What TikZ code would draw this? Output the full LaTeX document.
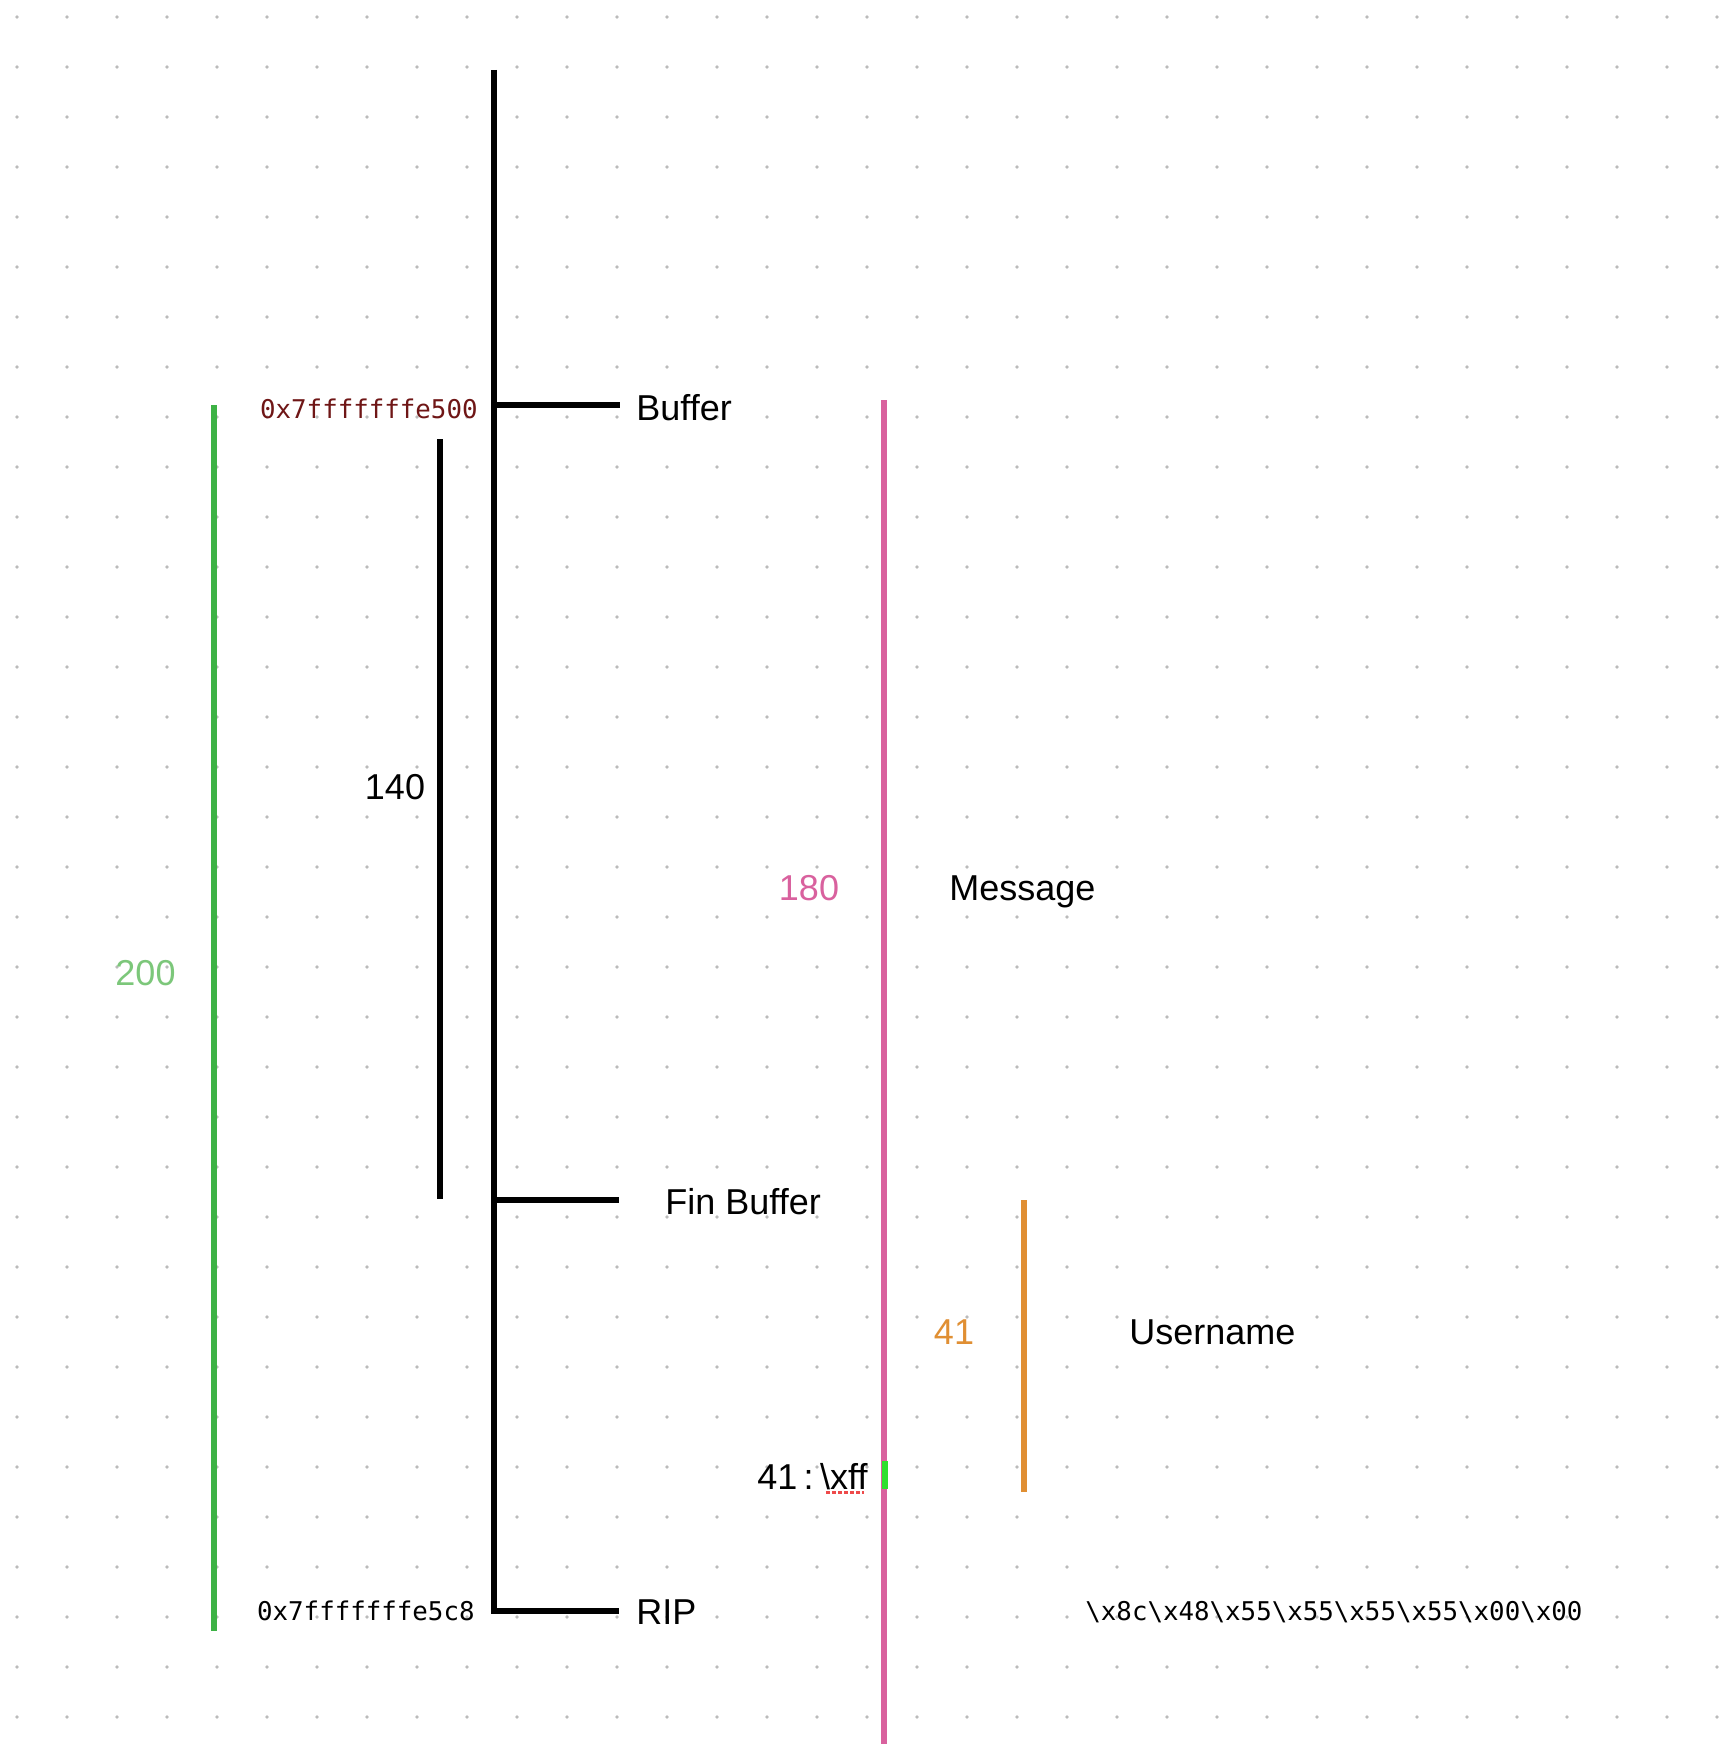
\documentclass[tikz,border=0pt]{standalone}
\usepackage{fontspec}
\setmainfont{Liberation Sans}
\newfontfamily\codefont{DejaVu Sans Mono}
\definecolor{gridgray}{HTML}{BBBBBB}
\definecolor{addrred}{HTML}{6F1616}
\definecolor{spangreen}{HTML}{3DB245}
\definecolor{spangreentext}{HTML}{7CC77A}
\definecolor{spanpink}{HTML}{D9619E}
\definecolor{spanorange}{HTML}{E08F33}
\definecolor{bytegreen}{HTML}{2EE02E}
\definecolor{spellred}{HTML}{EE4A4A}
\newcommand{\bsl}{\textbackslash}
\begin{document}
\begin{tikzpicture}[x=0.5pt,y=-0.5pt,
  bar/.style={line width=3pt,line join=miter},
  lbl/.style={inner sep=0pt,font=\fontsize{18}{20}\selectfont},
  code/.style={inner sep=0pt,font=\codefont\fontsize{12.9}{14}\selectfont}]
% canvas and dotted grid
\fill[white] (0,0) rectangle (1728,1744);
\useasboundingbox (0,0) rectangle (1728,1744);
\foreach \i in {0,...,34}{\foreach \j in {0,...,34}{
  \fill[gridgray] (17+50*\i,17+50*\j) circle (1.8);}}
% stack axis with its three markers
\coordinate (top) at (494,70);
\coordinate (buf) at (494,405);
\coordinate (bufend) at (620,405);
\coordinate (fin) at (494,1200);
\coordinate (finend) at (619,1200);
\coordinate (rip) at (494,1611);
\coordinate (ripend) at (619,1611);
\draw[bar] (top) -- (rip) -- (ripend);
\draw[bar] (buf) -- (bufend);
\draw[bar] (fin) -- (finend);
% size spans
\coordinate (g1) at (214,405);  \coordinate (g2) at (214,1631);
\coordinate (b1) at (440,439);  \coordinate (b2) at (440,1199);
\coordinate (p1) at (884,400);  \coordinate (p2) at (884,1744);
\coordinate (o1) at (1024,1200); \coordinate (o2) at (1024,1492);
\draw[bar,spangreen] (g1) -- (g2);
\draw[bar] (b1) -- (b2);
\draw[bar,spanpink] (p1) -- (p2);
\draw[bar,spanorange] (o1) -- (o2);
\coordinate (m1) at (885,1461); \coordinate (m2) at (885,1489);
\draw[bar,bytegreen] (m1) -- (m2);
% labels
\node[lbl,anchor=base west] (bufferlbl) at (636,420) {Buffer};
\node[lbl,anchor=base west] (finlbl) at (665,1214) {Fin Buffer};
\node[lbl,anchor=base west] (riplbl) at (636,1624) {RIP};
\node[code,text=addrred,anchor=base east] (addrtop) at (478,418) {0x7fffffffe500};
\node[code,anchor=base east] (addrrip) at (475,1620) {0x7fffffffe5c8};
\node[code,anchor=base west] (ripbytes) at (1085,1620) {\bsl x8c\bsl x48\bsl x55\bsl x55\bsl x55\bsl x55\bsl x00\bsl x00};
\node[lbl,text=spangreentext,anchor=base] (n200) at (145.5,985) {200};
\node[lbl,anchor=base] (n140) at (395,799) {140};
\node[lbl,text=spanpink,anchor=base] (n180) at (809,900) {180};
\node[lbl,anchor=base west] (msg) at (949,900) {Message};
\node[lbl,text=spanorange,anchor=base] (n41) at (954,1344) {41};
\node[lbl,anchor=base west] (user) at (1129,1344) {Username};
\node[lbl,anchor=base east] (xff) at (868,1489) {41\hspace{0.18em}:\hspace{0.18em}\bsl xff};
\coordinate (u1) at (826,1492); \coordinate (u2) at (864,1492);
\draw[spellred,line width=1.5pt,dash pattern=on 2pt off 1pt] (u1) -- (u2);
\end{tikzpicture}
\end{document}
